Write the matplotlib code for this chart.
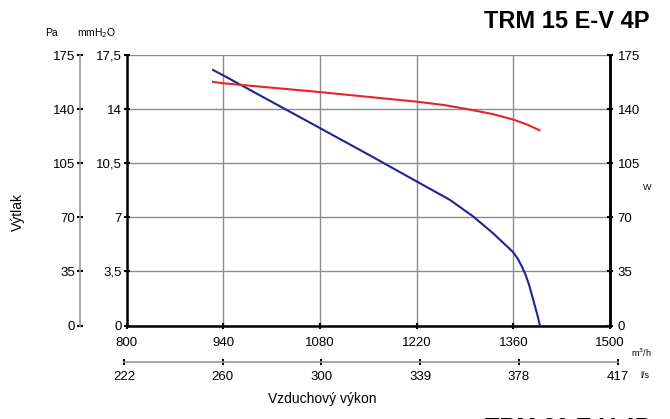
import numpy as np
import matplotlib
matplotlib.use("Agg")
import matplotlib.pyplot as plt

plt.rcParams["font.family"] = ["Liberation Sans", "DejaVu Sans"]

# ---------------------------------------------------------------------------
# Data
# ---------------------------------------------------------------------------
flow_ticks = [800, 940, 1080, 1220, 1360, 1500]
ls_labels = ["222", "260", "300", "339", "378", "417"]
pa_ticks = [0, 35, 70, 105, 140, 175]
mm_labels = ["0", "3,5", "7", "10,5", "14", "17,5"]

# pressure curve (Pa)
p_flow = [925, 940, 1080, 1150, 1220, 1268, 1302, 1331, 1359, 1366, 1372, 1378,
          1383, 1387, 1391, 1395, 1398.5]
p_val = [165.3, 161.8, 127.7, 110.6, 93.2, 81.3, 70.5, 59.5, 47.8, 43.5, 38.5, 32.5,
         26.0, 19.5, 13.0, 6.5, 0.0]

# power curve (W)
w_flow = [925, 940, 1080, 1220, 1260, 1292, 1330, 1360, 1380, 1398]
w_val = [157.6, 156.7, 151.0, 144.8, 142.6, 140.1, 136.8, 133.2, 130.0, 126.3]

# ---------------------------------------------------------------------------
W, H = 670, 419
fig = plt.figure(figsize=(W / 100, H / 100), dpi=100)
left, right, top, bottom = 126.7, 610, 55, 325.5
ax = fig.add_axes([left / W, 1 - bottom / H, (right - left) / W, (bottom - top) / H])

ax.plot(p_flow, p_val, color="#23238f", lw=1.5, zorder=3)
ax.plot(w_flow, w_val, color="#e8232b", lw=1.5, zorder=3)

ax.set_xlim(800, 1500)
ax.set_ylim(0, 175)
ax.set_xticks(flow_ticks)
ax.set_yticks(pa_ticks)
ax.set_yticklabels(mm_labels)
ax.grid(True, color="#8c8c8c", lw=1)
for s in ["left", "bottom", "right"]:
    ax.spines[s].set_linewidth(1.8)
    ax.spines[s].set_color("black")
ax.spines["top"].set_visible(False)
ax.tick_params(axis="both", direction="inout", length=5, width=1.5,
               labelsize=9.5, colors="black")
ax.tick_params(axis="x", pad=6)
ax.tick_params(axis="y", pad=1)

# right axis (W)
axr = ax.twinx()
axr.set_ylim(0, 175)
axr.set_yticks(pa_ticks)
for s in ["left", "bottom", "top"]:
    axr.spines[s].set_visible(False)
axr.spines["right"].set_linewidth(1.8)
axr.tick_params(axis="y", direction="inout", length=5, width=1.5, labelsize=9.5, pad=3)

# outer Pa axis
axpa = ax.secondary_yaxis((80 - left) / (right - left))
axpa.set_yticks(pa_ticks)
axpa.spines["left"].set_color("#999999")
axpa.spines["left"].set_linewidth(1.2)
axpa.tick_params(axis="y", direction="inout", length=5, width=1.5, labelsize=9.5,
                 pad=1, color="black")

# lower l/s axis (its own slightly wider strip, as in the reference)
ls_left, ls_right, ls_y = 124, 617.7, 362
axls = fig.add_axes([ls_left / W, 1 - ls_y / H, (ls_right - ls_left) / W, 0.001])
axls.set_xlim(800, 1500)
axls.set_xticks(flow_ticks)
axls.set_xticklabels(ls_labels)
axls.set_yticks([])
axls.patch.set_alpha(0)
for s in ["left", "right", "top"]:
    axls.spines[s].set_visible(False)
axls.spines["bottom"].set_color("#999999")
axls.spines["bottom"].set_linewidth(1.2)
axls.tick_params(axis="x", direction="inout", length=5, width=1.5, labelsize=9.5,
                 pad=4, color="black")

# texts
fig.text(45 / W, 1 - 33 / H, "Pa", fontsize=7.5, va="center", ha="left")
fig.text(77 / W, 1 - 33 / H, "mmH$_2$O", fontsize=7.5, va="center", ha="left")
fig.text(650 / W, 1 - 22 / H, "TRM 15 E-V 4P", fontsize=17, fontweight="bold",
         ha="right", va="center")
# next chart's title, cut by the lower edge as in the reference
fig.text(485 / W, 1 - 416.5 / H, "TRM 20 E-V 4P", fontsize=17, fontweight="bold",
         ha="left", va="top")
fig.text(647 / W, 1 - 187 / H, "W", fontsize=6.5, ha="center", va="center")
fig.text(631 / W, 1 - 353 / H, "m$^3$/h", fontsize=6.5, ha="left", va="center")
fig.text(640 / W, 1 - 375 / H, "l/s", fontsize=6.5, ha="left", va="center")
fig.text(18 / W, 1 - 212 / H, "Výtlak", fontsize=10, rotation=90, ha="center", va="center")
fig.text(322 / W, 1 - 399 / H, "Vzduchový výkon", fontsize=10, ha="center", va="center")

fig.savefig("out.png", dpi=100)
